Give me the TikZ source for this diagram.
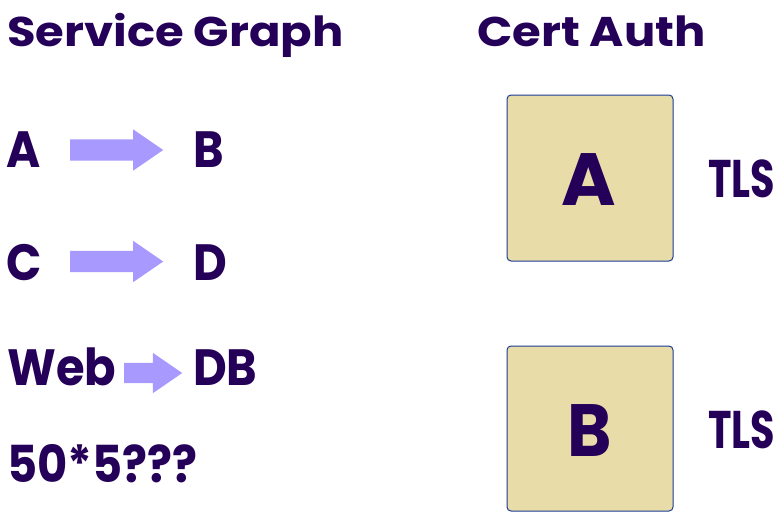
\documentclass[tikz,border=0pt]{standalone}
\usepackage{fontspec}
\setmainfont{Poppins}[BoldFont={* Bold}]
\newfontfamily\wideff{Poppins Bold}[FakeStretch=1.12]
\newfontfamily\narrowff{Poppins Bold}[FakeStretch=0.91]
\usetikzlibrary{shapes.arrows}
\definecolor{ink}{HTML}{250059}
\definecolor{arrowc}{HTML}{A899FF}
\definecolor{boxfill}{HTML}{E8DCA8}
\definecolor{boxline}{HTML}{1B3C96}
\begin{document}
\begin{tikzpicture}[x=1pt,y=-1pt,
  lbl/.style={anchor=base west,inner sep=0pt,text=ink,font=\narrowff\fontsize{51}{51}\selectfont},
  ttl/.style={anchor=base west,inner sep=0pt,text=ink,font=\wideff\fontsize{41.5}{41.5}\selectfont},
  blk/.style={single arrow,anchor=tail,fill=arrowc,draw=none,inner xsep=0pt,single arrow tip angle=69,single arrow head extend=10pt},
  cabox/.style={draw=boxline,line width=1pt,fill=boxfill,rounded corners=4pt},
  big/.style={text=ink,inner sep=0pt,font=\bfseries\fontsize{74}{74}\selectfont},
  tls/.style={anchor=base west,inner sep=0pt,text=ink,font=\bfseries\fontsize{53}{53}\selectfont}]
\useasboundingbox (0,0) rectangle (783,512);
\node[ttl] (t1) at (7,46) {Service Graph};
\node[ttl] (t2) at (477,46) {Cert Auth};
\node[lbl] (a) at (6,167) {A};
\node[lbl] (b) at (193,167) {B};
\node[lbl] (c) at (6,280) {C};
\node[lbl] (d) at (193,280) {D};
\node[lbl] (web) at (7,385) {Web};
\node[lbl] (db) at (193,385) {DB};
\node[lbl] (q) at (7,482) {50*5???};
\node[blk,inner ysep=10.5pt,minimum height=93pt] (ar1) at (70,150) {};
\node[blk,inner ysep=10.5pt,minimum height=93pt] (ar2) at (70,261.5) {};
\node[blk,inner ysep=10pt,minimum height=58pt] (ar3) at (124,373) {};
\draw[cabox] (507,95) rectangle (673,261);
\draw[cabox] (507,346) rectangle (673,511);
\node[big,anchor=base] (ba) at (589,205) {A};
\node[big,anchor=base,font=\narrowff\fontsize{74}{74}\selectfont] (bb) at (590,456) {B};
\node[tls] (tls1) at (708,197) {\scalebox{0.75}[1]{TLS}};
\node[tls] (tls2) at (708,448) {\scalebox{0.75}[1]{TLS}};
\end{tikzpicture}
\end{document}
